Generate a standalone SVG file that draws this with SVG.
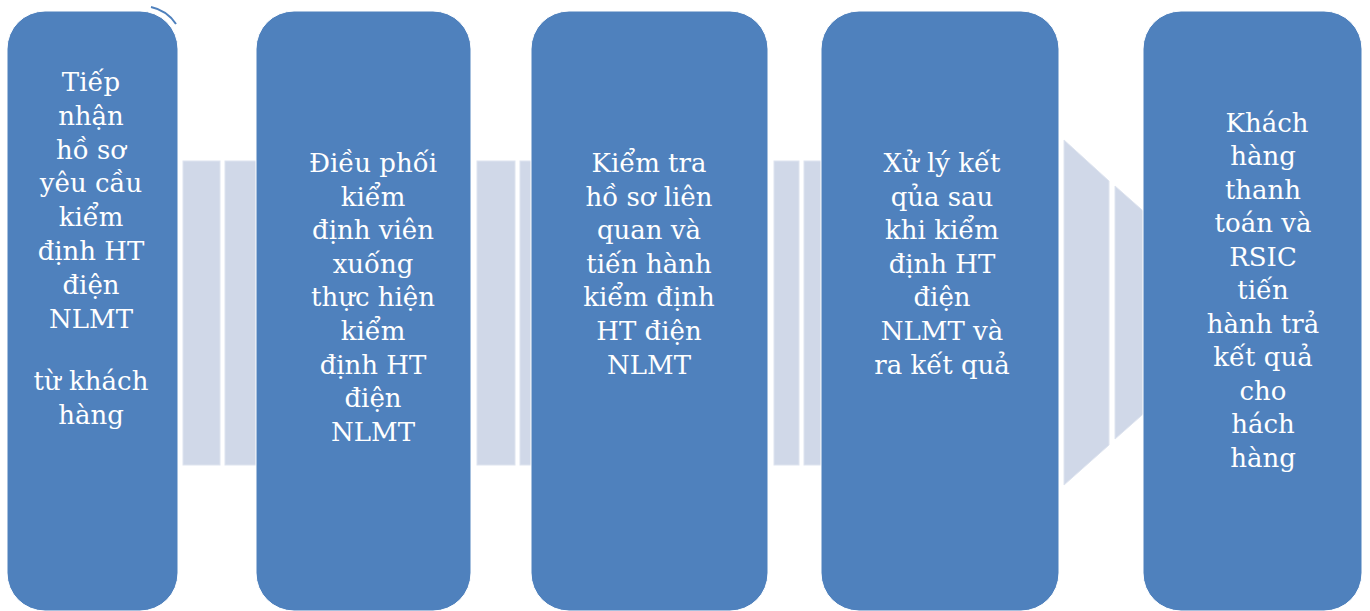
<svg xmlns="http://www.w3.org/2000/svg" width="1370" height="611" viewBox="0 0 1370 611">
<style>
.box{fill:#4F81BD;stroke:#FFFFFF;stroke-width:1}
.bar{fill:#D0D8E8;stroke:#DEE4EF;stroke-width:1}
.t{font-family:"DejaVu Serif","Liberation Serif",serif;font-size:26px;fill:#FFFFFF;text-anchor:middle}
</style>
<rect width="1370" height="611" fill="#FFFFFF"/>
<g id="connectors">
<rect class="bar" x="183" y="161" width="37" height="304"/>
<rect class="bar" x="225" y="161" width="36" height="304"/>
<rect class="bar" x="477" y="161" width="38" height="304"/>
<rect class="bar" x="520" y="161" width="16" height="304"/>
<rect class="bar" x="774" y="161" width="25" height="304"/>
<rect class="bar" x="804" y="161" width="22" height="304"/>
<polygon class="bar" points="1064,140 1109,181 1109,445 1064,485"/>
<polygon class="bar" points="1115,186 1150,217 1150,408 1115,439"/>
</g>
<g id="node1">
<path d="M151,7 A40,40 0 0 1 176,24" fill="none" stroke="#4F81BD" stroke-width="2"/>
<rect class="box" x="7" y="11" width="171" height="600" rx="38" ry="38"/>
<text class="t"><tspan x="91" y="91">Tiếp</tspan><tspan x="91" y="124.5">nhận</tspan><tspan x="91" y="158.5">hồ sơ</tspan><tspan x="91" y="192">yêu cầu</tspan><tspan x="91" y="226">kiểm</tspan><tspan x="91" y="260">định HT</tspan><tspan x="91" y="293.5">điện</tspan><tspan x="91" y="327.5">NLMT</tspan><tspan x="91" y="390">từ khách</tspan><tspan x="91" y="423.5">hàng</tspan></text>
</g>
<g id="node2">
<rect class="box" x="256" y="11" width="215" height="600" rx="38" ry="38"/>
<text class="t"><tspan x="373" y="172">Điều phối</tspan><tspan x="373" y="205.6">kiểm</tspan><tspan x="373" y="239.2">định viên</tspan><tspan x="373" y="272.8">xuống</tspan><tspan x="373" y="306.4">thực hiện</tspan><tspan x="373" y="340">kiểm</tspan><tspan x="373" y="373.6">định HT</tspan><tspan x="373" y="407.2">điện</tspan><tspan x="373" y="440.8">NLMT</tspan></text>
</g>
<g id="node3">
<rect class="box" x="531" y="11" width="237" height="600" rx="38" ry="38"/>
<text class="t"><tspan x="649" y="172">Kiểm tra</tspan><tspan x="649" y="205.6">hồ sơ liên</tspan><tspan x="649" y="239.2">quan và</tspan><tspan x="649" y="272.8">tiến hành</tspan><tspan x="649" y="306.4">kiểm định</tspan><tspan x="649" y="340">HT điện</tspan><tspan x="649" y="373.6">NLMT</tspan></text>
</g>
<g id="node4">
<rect class="box" x="821" y="11" width="238" height="600" rx="38" ry="38"/>
<text class="t"><tspan x="942" y="172">Xử lý kết</tspan><tspan x="942" y="205.6">qủa sau</tspan><tspan x="942" y="239.2">khi kiểm</tspan><tspan x="942" y="272.8">định HT</tspan><tspan x="942" y="306.4">điện</tspan><tspan x="942" y="340">NLMT và</tspan><tspan x="942" y="373.6">ra kết quả</tspan></text>
</g>
<g id="node5">
<rect class="box" x="1143" y="11" width="219" height="600" rx="38" ry="38"/>
<text class="t"><tspan x="1267" y="131.5">Khách</tspan><tspan x="1263" y="165">hàng</tspan><tspan x="1263" y="198.5">thanh</tspan><tspan x="1263" y="232">toán và</tspan><tspan x="1263" y="265.5">RSIC</tspan><tspan x="1263" y="299">tiến</tspan><tspan x="1263" y="332.5">hành trả</tspan><tspan x="1263" y="366">kết quả</tspan><tspan x="1263" y="399.5">cho</tspan><tspan x="1263" y="433">hách</tspan><tspan x="1263" y="466.5">hàng</tspan></text>
</g>
</svg>
